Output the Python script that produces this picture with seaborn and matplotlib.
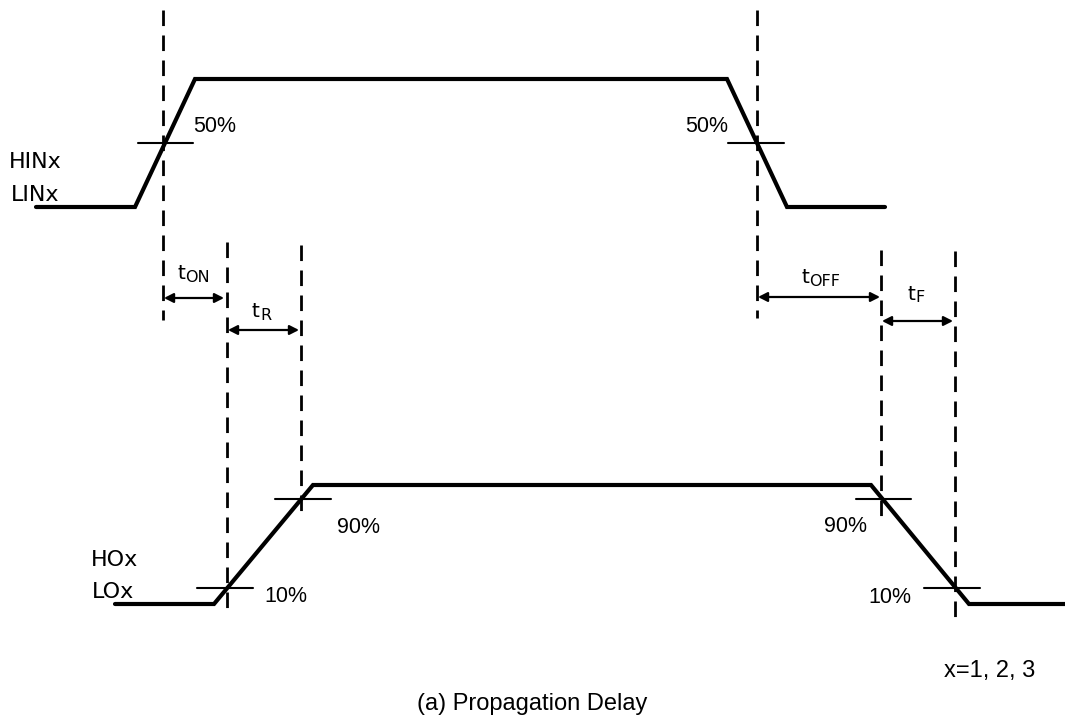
import pandas as pd
import seaborn as sns
import matplotlib.pyplot as plt

# waveform corners (pixel-ish units, y grows downwards)
hin_x = [36, 135, 195, 727, 787, 885]
hin_y = [207, 207, 79, 79, 207, 207]
ho_x = [115, 214, 313, 871, 969, 1065]
ho_y = [604, 604, 485, 485, 604, 604]

# dashed reference lines: x, top, bottom
dash_x = [163, 757, 227, 301, 881, 955]
dash_top = [10, 10, 242, 245, 250, 251]
dash_bot = [320, 318, 610, 520, 520, 620]

# level crossing marks: left, right, y
mark_x0 = [138, 728, 275, 856, 197, 924]
mark_x1 = [193, 784, 331, 911, 253, 980]
mark_y = [143, 143, 499, 499, 588, 588]

# timing arrows and their labels
arr_x0 = [164, 228, 758, 882]
arr_x1 = [224, 299, 880, 953]
arr_y = [298, 330, 297, 321]
arr_sub = ['ON', 'R', 'OFF', 'F']
t_x = [177, 252, 801, 907]
t_y = [279, 317, 283, 300]

# percent labels
pct_text = ['50%', '50%', '90%', '90%', '10%', '10%']
pct_x = [193, 728, 337, 867, 264, 911]
pct_y = [132, 132, 533, 532, 602, 603]
pct_ha = ['left', 'right', 'left', 'right', 'left', 'right']

# signal names
sig_text = ['HINx', 'LINx', 'HOx', 'LOx']
sig_x = [9, 11, 91, 92]
sig_y = [168, 201, 566, 598]

sns.set_style('white')
plt.rcParams['font.family'] = ['Liberation Sans', 'DejaVu Sans']
plt.rcParams['text.color'] = 'black'

fig = plt.figure(figsize=(10.65, 7.18), dpi=100)
ax = fig.add_axes([0, 0, 1, 1])

wave = pd.DataFrame({'x': hin_x + ho_x, 'y': hin_y + ho_y,
                     'sig': ['in'] * len(hin_x) + ['out'] * len(ho_x)})
sns.lineplot(data=wave, x='x', y='y', units='sig', estimator=None, sort=False,
             color='black', lw=3.0, ax=ax, solid_joinstyle='miter')

for x, t, b in zip(dash_x, dash_top, dash_bot):
    ax.plot([x, x], [t, b], color='black', lw=2.0, dashes=(5.6, 3.4))

for x0, x1, y in zip(mark_x0, mark_x1, mark_y):
    ax.plot([x0, x1], [y, y], color='black', lw=1.5)

for x0, x1, y, sub, tx, ty in zip(arr_x0, arr_x1, arr_y, arr_sub, t_x, t_y):
    ax.annotate('', xy=(x1, y), xytext=(x0, y),
                arrowprops=dict(arrowstyle='<|-|>,head_length=0.55,head_width=0.28',
                                color='black', lw=1.6, shrinkA=0, shrinkB=0))
    ax.text(tx, ty, 't', fontsize=14.5, family='DejaVu Sans', ha='left', va='baseline')
    ax.text(tx + 8.5, ty + 2.5, sub, fontsize=11.5, family='DejaVu Sans',
            ha='left', va='baseline')

for s, x, y, ha in zip(pct_text, pct_x, pct_y, pct_ha):
    ax.text(x, y, s, fontsize=15.5, ha=ha, va='baseline')

for s, x, y in zip(sig_text, sig_x, sig_y):
    ax.text(x, y, s, fontsize=16, family='DejaVu Sans', ha='left', va='baseline')

ax.text(1035, 677, 'x=1, 2, 3', fontsize=17, ha='right', va='baseline')
ax.text(532, 710, '(a) Propagation Delay', fontsize=17, ha='center', va='baseline')

ax.set_xlim(0, 1065)
ax.set_ylim(718, 0)
ax.axis('off')
if ax.get_legend():
    ax.get_legend().remove()

fig.savefig('out.png', dpi=100)
